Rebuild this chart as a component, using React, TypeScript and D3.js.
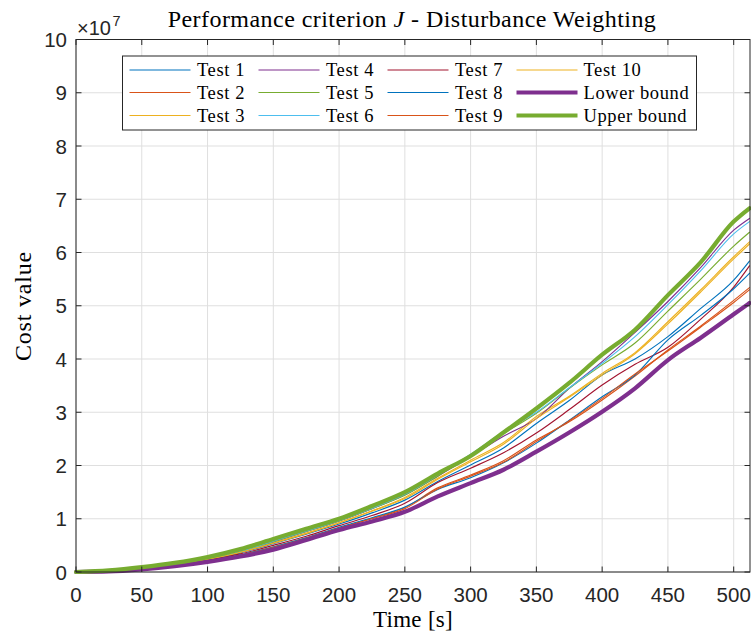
import React from "react";
import * as d3 from "d3";

const xs = [0, 25, 50, 75, 100, 125, 150, 175, 200, 225, 250, 275, 300, 325, 350, 375, 400, 425, 450, 475, 500, 512];
const upperBound = [0, 0.03, 0.09, 0.17, 0.28, 0.43, 0.62, 0.81, 1.0, 1.24, 1.5, 1.85, 2.18, 2.62, 3.07, 3.55, 4.08, 4.55, 5.2, 5.82, 6.58, 6.83];
const lowerBound = [0, 0.01, 0.05, 0.11, 0.19, 0.29, 0.42, 0.6, 0.79, 0.95, 1.13, 1.42, 1.67, 1.92, 2.26, 2.62, 3.01, 3.45, 3.98, 4.4, 4.84, 5.05];
const test1 = [0, 0.02, 0.07, 0.14, 0.23, 0.36, 0.53, 0.71, 0.9, 1.11, 1.35, 1.7, 2.01, 2.33, 2.79, 3.22, 3.7, 4.0, 4.42, 4.95, 5.48, 5.84];
const test2 = [0, 0.02, 0.06, 0.12, 0.21, 0.32, 0.47, 0.64, 0.83, 1.01, 1.21, 1.58, 1.82, 2.09, 2.48, 2.82, 3.23, 3.68, 4.17, 4.62, 5.1, 5.34];
const test3 = [0, 0.02, 0.07, 0.14, 0.24, 0.37, 0.55, 0.73, 0.93, 1.15, 1.4, 1.76, 2.1, 2.43, 2.92, 3.3, 3.73, 4.12, 4.7, 5.3, 5.92, 6.2];
const test4 = [0, 0.03, 0.08, 0.15, 0.25, 0.39, 0.57, 0.76, 0.96, 1.19, 1.45, 1.8, 2.17, 2.55, 2.88, 3.45, 3.95, 4.5, 5.08, 5.72, 6.42, 6.64];
const test5 = [0, 0.03, 0.08, 0.15, 0.25, 0.39, 0.57, 0.76, 0.96, 1.19, 1.44, 1.8, 2.2, 2.6, 2.98, 3.45, 3.89, 4.3, 4.9, 5.5, 6.12, 6.38];
const test6 = [0, 0.03, 0.08, 0.15, 0.25, 0.39, 0.58, 0.77, 0.97, 1.2, 1.46, 1.82, 2.21, 2.64, 3.0, 3.46, 3.92, 4.42, 5.02, 5.66, 6.35, 6.58];
const test7 = [0, 0.02, 0.07, 0.13, 0.22, 0.34, 0.5, 0.67, 0.87, 1.06, 1.29, 1.68, 1.95, 2.24, 2.61, 3.05, 3.51, 3.9, 4.22, 4.75, 5.35, 5.75];
const test8 = [0, 0.02, 0.06, 0.12, 0.21, 0.32, 0.47, 0.64, 0.84, 1.02, 1.22, 1.55, 1.77, 2.05, 2.42, 2.85, 3.29, 3.7, 4.36, 4.82, 5.32, 5.61];
const test9 = [0, 0.02, 0.06, 0.12, 0.2, 0.31, 0.46, 0.63, 0.82, 1.0, 1.19, 1.56, 1.8, 2.06, 2.45, 2.84, 3.26, 3.72, 4.15, 4.6, 5.06, 5.3];
const test10 = [0, 0.02, 0.07, 0.14, 0.24, 0.37, 0.54, 0.72, 0.92, 1.14, 1.38, 1.74, 2.07, 2.4, 2.88, 3.28, 3.7, 4.1, 4.66, 5.26, 5.88, 6.16];

const seriesNames = ["Test 1", "Test 2", "Test 3", "Test 4", "Test 5", "Test 6", "Test 7", "Test 8", "Test 9", "Test 10", "Lower bound", "Upper bound"];
const seriesValues = [test1, test2, test3, test4, test5, test6, test7, test8, test9, test10, lowerBound, upperBound];
const seriesColors = ["#0072BD", "#D95319", "#EDB120", "#7E2F8E", "#77AC30", "#4DBEEE", "#A2142F", "#0072BD", "#D95319", "#EDB120", "#7E2F8E", "#77AC30"];
const seriesWidths = [1.15, 1.15, 1.15, 1.15, 1.15, 1.15, 1.15, 1.15, 1.15, 1.15, 4.2, 4.2];

const xTicks = [0, 50, 100, 150, 200, 250, 300, 350, 400, 450, 500];
const yTicks = [0, 1, 2, 3, 4, 5, 6, 7, 8, 9, 10];

const W = 751, H = 637;
const L = 76, R = 750, T = 39.5, B = 572;

export default function App() {
  const x = d3.scaleLinear().domain([0, 512.4]).range([L, R]);
  const y = d3.scaleLinear().domain([0, 10]).range([B, T]);
  const line = d3
    .line<number>()
    .x((_, i) => x(xs[i]))
    .y((v) => y(v))
    .curve(d3.curveMonotoneX);
  const axisCol = "#262626";
  const serif = "'Liberation Serif', 'Times New Roman', serif";
  const sans = "'Liberation Sans', Arial, Helvetica, sans-serif";

  const legRows = [70, 92.5, 115.5];
  const legCols = [{ l: 129.5, t: 197 }, { l: 258.5, t: 326 }, { l: 387.5, t: 455 }, { l: 516.5, t: 583.5 }];
  const legOrder = [0, 1, 2, 3, 4, 5, 6, 7, 8, 9, 10, 11];

  return (
    <svg width={W} height={H} style={{ position: "absolute", left: 0, top: 0, background: "#fff" }}>
      <rect x={0} y={0} width={W} height={H} fill="#fff" />
      {xTicks.map((t) => (
        <line key={"gx" + t} x1={x(t)} x2={x(t)} y1={T} y2={B} stroke="#dfdfdf" strokeWidth={1} />
      ))}
      {yTicks.map((t) => (
        <line key={"gy" + t} x1={L} x2={R} y1={y(t)} y2={y(t)} stroke="#dfdfdf" strokeWidth={1} />
      ))}
      <g fill="none" strokeLinejoin="round" strokeLinecap="round">
        {seriesValues.map((vals, i) => (
          <path key={"s" + i} d={line(vals) || ""} stroke={seriesColors[i]} strokeWidth={seriesWidths[i]} />
        ))}
      </g>
      <rect x={L} y={T} width={R - L} height={B - T} fill="none" stroke={axisCol} strokeWidth={1} />
      {xTicks.map((t) => (
        <g key={"tx" + t}>
          <line x1={x(t)} x2={x(t)} y1={B} y2={B - 5.5} stroke={axisCol} />
          <line x1={x(t)} x2={x(t)} y1={T} y2={T + 5.5} stroke={axisCol} />
          <text x={x(t)} y={602} textAnchor="middle" fontFamily={sans} fontSize={20.5} fill={axisCol}>
            {t}
          </text>
        </g>
      ))}
      {yTicks.map((t) => (
        <g key={"ty" + t}>
          <line x1={L} x2={L + 5.5} y1={y(t)} y2={y(t)} stroke={axisCol} />
          <line x1={R} x2={R - 5.5} y1={y(t)} y2={y(t)} stroke={axisCol} />
          <text x={67} y={y(t) + 7.5} textAnchor="end" fontFamily={sans} fontSize={20.5} fill={axisCol}>
            {t}
          </text>
        </g>
      ))}
      <text x={77} y={35} fontFamily={sans} fontSize={20} fill={axisCol}>
        ×10
      </text>
      <text x={112.5} y={26} fontFamily={sans} fontSize={14.5} fill={axisCol}>
        7
      </text>
      <text x={412} y={27} textAnchor="middle" fontFamily={serif} fontSize={24} letterSpacing={0.45} fill="#000">
        Performance criterion <tspan fontStyle="italic">J</tspan> - Disturbance Weighting
      </text>
      <text x={413} y={627} textAnchor="middle" fontFamily={serif} fontSize={23} letterSpacing={0.3} fill="#000">
        Time [s]
      </text>
      <text transform={`translate(31,306) rotate(-90)`} textAnchor="middle" fontFamily={serif} fontSize={24} letterSpacing={0.8} fill="#000">
        Cost value
      </text>
      <rect x={122.5} y={56} width={574} height={74} fill="#fff" stroke={axisCol} strokeWidth={1} />
      {legOrder.map((si, k) => {
        const col = legCols[Math.floor(k / 3)];
        const ry = legRows[k % 3];
        return (
          <g key={"lg" + si}>
            <line x1={col.l} x2={col.l + 61} y1={ry} y2={ry} stroke={seriesColors[si]} strokeWidth={seriesWidths[si]} />
            <text x={col.t} y={ry + 6} fontFamily={serif} fontSize={18.5} letterSpacing={0.6} fill="#000">
              {seriesNames[si]}
            </text>
          </g>
        );
      })}
    </svg>
  );
}
